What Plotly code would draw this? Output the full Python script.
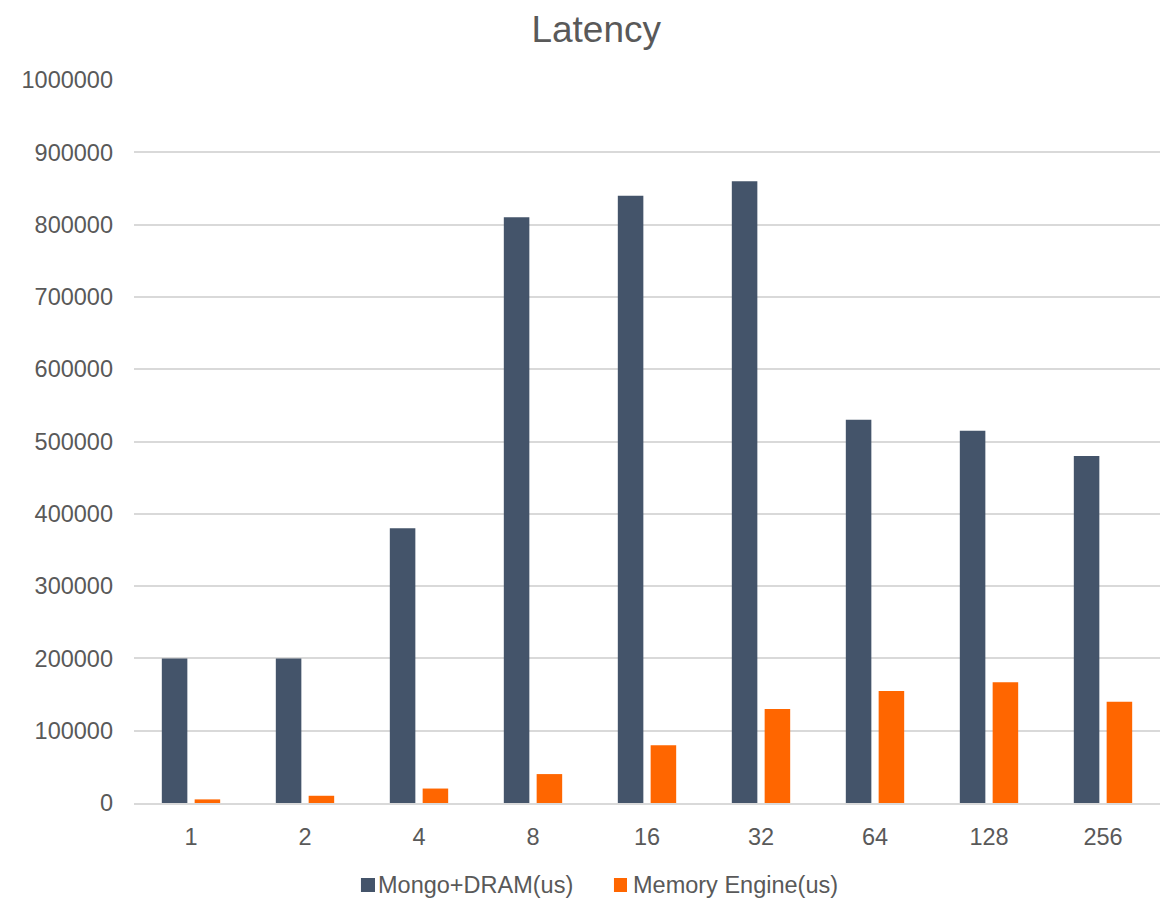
import plotly.graph_objects as go

# Concurrency levels (x categories)
threads = ["1", "2", "4", "8", "16", "32", "64", "128", "256"]

# Latency in microseconds per series
mongo_dram_us = [200000, 200000, 380000, 810000, 840000, 860000, 530000, 515000, 480000]
memory_engine_us = [5000, 10000, 20000, 40000, 80000, 130000, 155000, 167000, 140000]

series_names = ["Mongo+DRAM(us)", "Memory Engine(us)"]
series_colors = ["#44546A", "#FF6600"]

y_ticks = list(range(0, 1000001, 100000))

TEXT = "#595959"
GRID = "#D9D9D9"
FONT = "Liberation Sans, Arial, sans-serif"
FS = 23.5

fig = go.Figure()
fig.add_trace(go.Bar(
    name=series_names[0], x=threads, y=mongo_dram_us,
    marker=dict(color=series_colors[0], line=dict(width=0)),
    width=0.224, offset=-0.256,
))
fig.add_trace(go.Bar(
    name=series_names[1], x=threads, y=memory_engine_us,
    marker=dict(color=series_colors[1], line=dict(width=0)),
    width=0.224, offset=0.032,
))

# Legend drawn as colour squares plus labels below the axis
legend_sq_x = [(0.2212, 0.2349), (0.4678, 0.4805)]
legend_txt_x = [0.2359, 0.4844]
for (x0, x1), tx, name, col in zip(legend_sq_x, legend_txt_x, series_names, series_colors):
    fig.add_shape(type="rect", xref="paper", yref="paper",
                  x0=x0, x1=x1, y0=-0.1231, y1=-0.1037,
                  fillcolor=col, line=dict(width=0))
    fig.add_annotation(xref="paper", yref="paper", x=tx, y=-0.1134,
                       xanchor="left", yanchor="middle", showarrow=False,
                       text=name, font=dict(size=FS, color=TEXT, family=FONT))

fig.update_layout(
    width=1169, height=899,
    margin=dict(l=134, r=9, t=80, b=96),
    paper_bgcolor="white", plot_bgcolor="white",
    font=dict(family=FONT, size=FS, color=TEXT),
    title=dict(text="Latency", x=0.51, xref="container", xanchor="center",
               y=0.968, yref="container", yanchor="middle",
               font=dict(size=37, color=TEXT, family=FONT)),
    barmode="group",
    showlegend=False,
    xaxis=dict(type="category", showgrid=False, showline=True, linecolor=GRID,
               linewidth=2, ticks="", tickfont=dict(size=FS, color=TEXT),
               ticklabelstandoff=12),
    yaxis=dict(range=[0, 1000000], tickvals=y_ticks, tickformat="d",
               showgrid=True, gridcolor=GRID, gridwidth=2, zeroline=False,
               showline=False, ticks="", tickfont=dict(size=FS, color=TEXT),
               ticklabelstandoff=20),
)

fig.write_html("out.html")
